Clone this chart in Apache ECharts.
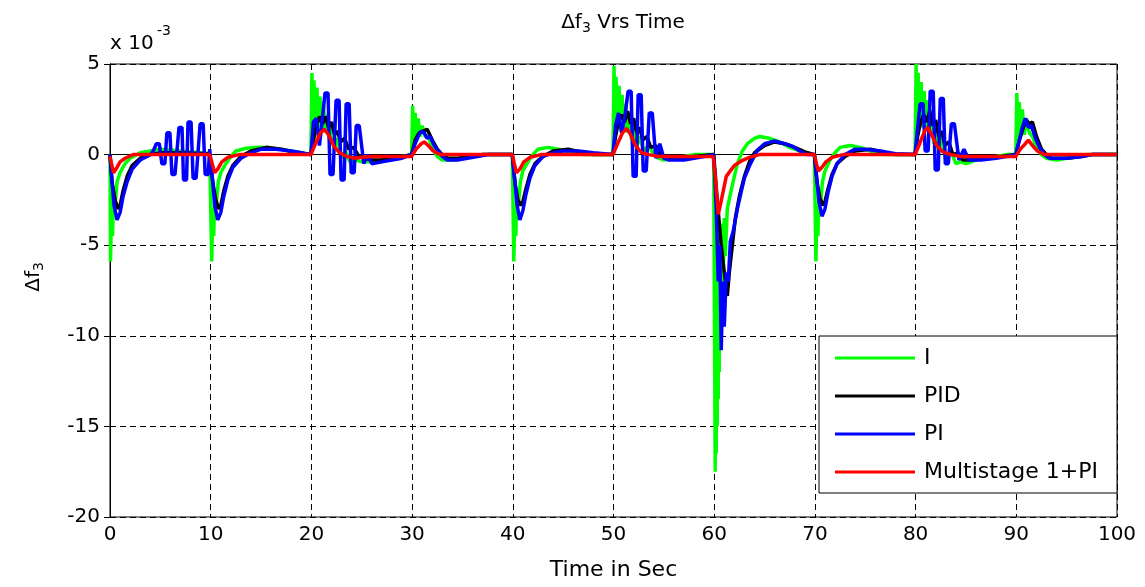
<!DOCTYPE html>
<html>
<head>
<meta charset="utf-8">
<script src="https://cdn.jsdelivr.net/npm/echarts@6/dist/echarts.min.js"></script>
<style>
html,body{margin:0;padding:0;background:#fff;}
#c{width:1145px;height:587px;}
</style>
</head>
<body>
<div id="c"></div>
<script>
// values in units of 1e-3
const seriesNames = ['I', 'PID', 'PI', 'Multistage 1+PI'];
const seriesColors = ['#00ff00', '#000000', '#0000ff', '#ff0000'];

const iData = [
[0,0],[0.05,-5.9],[0.15,-3.0],[0.25,-4.5],[0.35,-2.2],[0.5,-2.8],[0.7,-1.5],[1.0,-1.0],[1.5,-0.5],[2,-0.2],[3,0.1],[4,0.2],[5,0.3],[7,0.2],[9,0.1],[9.9,0.05],
[10.0,0],[10.1,-5.9],[10.2,-3.0],[10.3,-4.5],[10.4,-2.2],[10.55,-2.8],[10.75,-1.5],[11.0,-1.0],[11.5,-0.5],[12,-0.1],[12.5,0.2],[13.5,0.35],[15,0.4],[17,0.3],[19,0.1],[19.95,0],
[20.0,0],[20.05,4.5],[20.15,1.5],[20.25,4.1],[20.4,1.6],[20.55,3.7],[20.7,1.5],[20.85,3.2],[21.0,1.4],[21.2,2.8],[21.4,1.2],[21.6,2.2],[21.8,0.8],[22.0,1.6],[22.3,0.3],[22.6,0.9],[23.0,-0.2],[23.4,0.2],[23.8,-0.4],[24.5,-0.3],[25,-0.4],[26,-0.4],[27,-0.3],[28,-0.2],[29,-0.1],[29.95,0],
[30.0,0],[30.05,2.7],[30.15,0.8],[30.3,2.3],[30.45,0.9],[30.6,2.0],[30.8,1.0],[31.0,1.6],[31.3,1.0],[31.6,1.0],[32,0.4],[32.5,-0.1],[33,-0.3],[34,-0.3],[35,-0.2],[36,-0.1],[37,0],[39.95,0],
[40.0,0],[40.1,-5.9],[40.2,-3.0],[40.3,-4.5],[40.4,-2.2],[40.55,-2.8],[40.75,-1.5],[41.0,-0.9],[41.5,-0.4],[42,0],[42.5,0.3],[43.5,0.4],[44.5,0.3],[46,0.1],[47,0],[49.95,0],
[50.0,0],[50.05,4.9],[50.15,1.5],[50.25,4.3],[50.4,1.6],[50.55,3.8],[50.7,1.5],[50.85,3.3],[51.0,1.4],[51.2,2.8],[51.4,1.2],[51.6,2.3],[51.8,0.8],[52.0,1.8],[52.3,0.4],[52.6,1.0],[53.0,0.2],[53.5,0.5],[54,0],[54.5,-0.2],[55,-0.3],[56,-0.2],[57,-0.1],[58,0],[59.95,0],
[60.0,0],[60.05,-12],[60.1,-17.5],[60.15,-5],[60.2,-16.5],[60.25,-4.5],[60.3,-15],[60.35,-4.5],[60.4,-13.5],[60.45,-4.2],[60.5,-12],[60.55,-4],[60.6,-10.5],[60.65,-4],[60.7,-9],[60.75,-3.8],[60.8,-7.5],[60.85,-3.8],[60.9,-6.5],[61.0,-3.5],[61.1,-5.6],[61.3,-3],[61.6,-2.2],[62,-1.2],[62.3,-0.5],[62.8,0.2],[63.3,0.6],[64,0.9],[64.5,1.0],[65.5,0.9],[66.5,0.7],[67.5,0.4],[68.5,0.2],[69.5,0.05],[69.95,0],
[70.0,0],[70.1,-5.9],[70.2,-3.0],[70.3,-4.5],[70.4,-2.2],[70.55,-2.8],[70.75,-1.5],[71.0,-0.9],[71.5,-0.3],[72,0.1],[72.5,0.4],[73.5,0.5],[74.5,0.4],[75.5,0.2],[76.5,0.05],[77,0],[79.95,0],
[80.0,0],[80.05,5.0],[80.15,1.5],[80.25,4.5],[80.4,1.6],[80.55,4.0],[80.7,1.5],[80.85,3.5],[81.0,1.4],[81.2,3.0],[81.4,1.2],[81.6,2.5],[81.8,0.6],[82.0,1.8],[82.3,0.2],[82.6,0.9],[83.0,-0.3],[83.5,0.2],[84,-0.5],[84.5,-0.4],[85,-0.5],[86,-0.3],[87,-0.2],[88,-0.1],[89,0],[89.95,0],
[90.0,0],[90.05,3.4],[90.15,1.0],[90.3,2.9],[90.45,1.0],[90.6,2.5],[90.8,1.1],[91.0,2.0],[91.3,1.2],[91.6,1.0],[92,0.4],[92.5,0],[93,-0.2],[94,-0.3],[95,-0.2],[96,-0.1],[97,0],[100,0]
];

const pidData = [
[0,0],[0.2,-1.5],[0.5,-2.5],[0.8,-3.0],[1.0,-2.8],[1.3,-2.0],[1.7,-1.2],[2.2,-0.6],[3,-0.2],[4,0],[5,0.1],[7,0.1],[9.9,0.05],
[10.0,0],[10.2,-1.5],[10.5,-2.5],[10.8,-3.0],[11.0,-2.8],[11.3,-2.0],[11.7,-1.2],[12.2,-0.6],[13,-0.1],[14,0.2],[15.5,0.4],[17,0.3],[18.5,0.1],[19.95,0],
[20.0,0],[20.2,0.8],[20.5,1.6],[20.8,2.1],[21.1,1.7],[21.4,2.1],[21.7,1.5],[22.0,1.8],[22.3,1.1],[22.6,1.3],[22.9,0.7],[23.3,0.9],[23.7,0.3],[24.2,0.4],[24.7,-0.1],[25.3,-0.2],[26,-0.3],[27,-0.3],[28,-0.2],[29,-0.1],[29.95,0],
[30.0,0],[30.3,0.8],[30.7,1.2],[31.1,1.3],[31.5,1.4],[32,0.8],[32.5,0.3],[33,0],[33.5,-0.2],[34.5,-0.2],[36,-0.1],[37,0],[39.95,0],
[40.0,0],[40.2,-1.5],[40.5,-2.5],[40.8,-2.8],[41.0,-2.6],[41.3,-1.9],[41.7,-1.1],[42.2,-0.5],[43,-0.1],[44,0.2],[45.5,0.3],[47,0.1],[48,0],[49.95,0],
[50.0,0],[50.2,1.0],[50.5,1.8],[50.8,2.2],[51.1,1.8],[51.4,2.4],[51.7,1.7],[52.0,2.0],[52.3,1.2],[52.6,1.5],[52.9,0.8],[53.3,1.0],[53.7,0.4],[54.2,0.5],[54.7,0],[55.3,-0.2],[56.5,-0.2],[58,-0.1],[59.95,0],
[60.0,0],[60.3,-2.5],[60.7,-5],[61.0,-6.5],[61.3,-7.8],[61.5,-6.5],[61.8,-5.0],[62.1,-3.5],[62.5,-2.3],[63,-1.2],[63.5,-0.4],[64,0.1],[65,0.5],[66,0.7],[67,0.6],[68,0.4],[69,0.15],[69.95,0],
[70.0,0],[70.2,-1.5],[70.5,-2.4],[70.8,-2.8],[71.0,-2.6],[71.3,-1.9],[71.7,-1.1],[72.2,-0.5],[73,-0.1],[74,0.2],[75.5,0.3],[77,0.1],[78,0],[79.95,0],
[80.0,0],[80.2,1.0],[80.5,1.8],[80.8,2.2],[81.1,1.8],[81.4,2.4],[81.7,1.6],[82.0,1.9],[82.3,1.0],[82.6,1.3],[82.9,0.5],[83.3,0.7],[83.7,0],[84.2,0.1],[84.7,-0.3],[85.5,-0.3],[87,-0.2],[88.5,-0.1],[89.95,0],
[90.0,0],[90.3,0.8],[90.7,1.5],[91.0,1.9],[91.3,1.7],[91.6,1.8],[92,1.0],[92.5,0.3],[93,0],[93.5,-0.2],[95,-0.2],[96.5,-0.1],[97.5,0],[100,0]
];

const piData = [
[0,0],[0.2,-1.5],[0.4,-2.8],[0.7,-3.6],[1.0,-3.2],[1.3,-2.3],[1.7,-1.5],[2.2,-0.8],[3,-0.3],[4,0],[4.3,0.2],[4.6,0.6],[4.9,0.6],[5.15,-0.5],[5.45,-0.5],[5.65,1.2],[5.95,1.2],[6.15,-1.1],[6.45,-1.1],[6.85,1.5],[7.15,1.5],[7.3,-1.4],[7.6,-1.4],[7.75,1.8],[8.05,1.8],[8.25,-1.3],[8.55,-1.3],[8.95,1.7],[9.25,1.7],[9.45,-1.1],[9.75,-1.1],[9.9,0.3],
[10.0,0.2],[10.2,-1.5],[10.4,-2.8],[10.7,-3.6],[11.0,-3.2],[11.3,-2.3],[11.7,-1.4],[12.2,-0.7],[13,-0.2],[14,0.1],[15,0.3],[16.5,0.3],[18,0.2],[19,0.1],[19.95,0],
[20.0,0],[20.2,1.8],[20.5,2.0],[20.8,0.5],[21.0,1.5],[21.35,3.4],[21.65,3.4],[21.85,-1.1],[22.15,-1.1],[22.45,3.0],[22.75,3.0],[22.95,-1.4],[23.25,-1.4],[23.45,2.8],[23.75,2.8],[23.95,-1.0],[24.25,-1.0],[24.45,1.6],[24.75,1.6],[25.2,-0.5],[25.6,0],[26.0,-0.5],[27,-0.4],[28,-0.3],[29,-0.2],[29.95,0],
[30.0,0],[30.3,0.6],[30.6,1.0],[30.9,1.3],[31.2,1.2],[31.5,0.9],[31.8,1.0],[32.2,0.5],[32.6,0.2],[33,-0.1],[33.5,-0.3],[34.5,-0.3],[35.5,-0.2],[36.5,-0.1],[37.5,0],[39.95,0],
[40.0,0],[40.2,-1.4],[40.4,-2.7],[40.7,-3.6],[41.0,-3.1],[41.3,-2.2],[41.7,-1.3],[42.2,-0.6],[43,-0.1],[44,0.1],[45,0.2],[46.5,0.2],[48,0.1],[49.95,0],
[50.0,0],[50.2,1.6],[50.5,2.3],[50.8,1.2],[51.1,2.0],[51.45,3.5],[51.75,3.5],[51.95,-1.2],[52.25,-1.2],[52.45,3.3],[52.75,3.3],[52.95,-0.9],[53.25,-0.9],[53.55,2.3],[53.85,2.3],[54.2,-0.2],[54.6,0.6],[55.0,-0.2],[55.5,-0.3],[57,-0.3],[58,-0.2],[59,-0.1],[59.95,0],
[60.0,0],[60.2,-3],[60.4,-7],[60.55,-5],[60.7,-10.8],[60.85,-7],[61.0,-9.5],[61.2,-6.5],[61.4,-7],[61.6,-4.8],[61.9,-4.2],[62.3,-3.0],[62.7,-2.0],[63.0,-1.3],[63.6,-0.5],[64.3,0.25],[65,0.6],[66,0.75],[67,0.6],[67.8,0.45],[68.5,0.2],[69.2,0],[69.95,0],
[70.0,0],[70.2,-1.4],[70.4,-2.6],[70.7,-3.4],[71.0,-3.0],[71.3,-2.1],[71.7,-1.2],[72.2,-0.5],[73,0],[74,0.3],[75,0.3],[76.5,0.2],[78,0.05],[79.95,0],
[80.0,0],[80.2,1.5],[80.45,2.8],[80.75,2.8],[80.95,0.2],[81.25,0.2],[81.45,3.5],[81.75,3.5],[81.95,-0.85],[82.25,-0.85],[82.45,3.1],[82.75,3.1],[82.95,-0.5],[83.25,-0.5],[83.55,1.7],[83.85,1.7],[84.3,-0.3],[84.8,0.3],[85.3,-0.3],[86.5,-0.3],[88,-0.2],[89,-0.1],[89.95,0],
[90.0,0],[90.3,0.8],[90.6,1.5],[90.9,2.0],[91.2,1.5],[91.5,1.6],[91.9,0.9],[92.3,0.4],[92.8,0],[93.3,-0.2],[95,-0.2],[96.5,-0.1],[97.5,0],[100,0]
];

const msData = [
[0,-0.1],[0.15,-0.5],[0.35,-1.0],[0.6,-0.8],[1.0,-0.4],[1.5,-0.2],[2.3,0],[9.9,0],
[10.0,0],[10.15,-0.5],[10.4,-1.0],[10.7,-0.8],[11.1,-0.4],[11.7,-0.15],[12.8,0],[19.95,0],
[20.0,0],[20.4,0.6],[20.9,1.2],[21.3,1.4],[21.7,1.1],[22.2,0.5],[22.8,0.1],[23.5,-0.1],[24.3,-0.2],[25,-0.15],[26,-0.1],[29.95,-0.1],
[30.0,-0.1],[30.4,0.3],[30.9,0.6],[31.2,0.7],[31.6,0.5],[32.1,0.2],[32.8,0],[39.95,0],
[40.0,0],[40.15,-0.5],[40.35,-1.0],[40.7,-0.8],[41.1,-0.4],[41.7,-0.15],[42.8,0],[49.95,0],
[50.0,0],[50.4,0.6],[50.9,1.2],[51.3,1.45],[51.7,1.1],[52.2,0.5],[52.8,0.1],[53.5,0],[54.5,-0.1],[59.9,-0.1],
[60.0,-0.1],[60.15,-1.5],[60.4,-3.3],[60.6,-2.8],[60.9,-2.0],[61.2,-1.2],[61.6,-0.9],[62.0,-0.6],[62.7,-0.35],[63.5,-0.15],[64.5,0],[69.95,0],
[70.0,0],[70.15,-0.5],[70.35,-0.9],[70.7,-0.7],[71.1,-0.4],[71.7,-0.15],[72.8,0],[79.95,0],
[80.0,0],[80.4,0.6],[80.9,1.3],[81.2,1.5],[81.6,1.1],[82.1,0.5],[82.7,0.15],[83.5,0],[84.5,-0.1],[89.95,-0.1],
[90.0,-0.1],[90.4,0.3],[90.9,0.6],[91.2,0.8],[91.6,0.5],[92.1,0.2],[92.8,0],[100,0]
];

const xTicks = {min: 0, max: 100, interval: 10};
const yTicks = {min: -20, max: 5, interval: 5};

const FONT = '"DejaVu Sans", Verdana, sans-serif';
const allData = [iData, pidData, piData, msData];

const chart = echarts.init(document.getElementById('c'), null, {renderer: 'canvas'});
const GRID = {left: 110, right: 28, top: 64, bottom: 70};

const axisCommon = {
  axisLine: {show: true, lineStyle: {color: '#000', width: 1}},
  axisTick: {show: true, inside: true, length: 6, lineStyle: {color: '#000'}},
};

const option = {
  backgroundColor: '#fff',
  animation: false,
  grid: Object.assign({show: true, borderColor: '#000', borderWidth: 1, backgroundColor: '#fff'}, GRID),
  title: {
    text: '{a|Δf}{s|3}{a| Vrs Time}',
    left: 618, top: 6, textAlign: 'center',
    textStyle: {rich: {
      a: {fontFamily: FONT, fontSize: 20, fontWeight: 'normal', color: '#000', lineHeight: 24},
      s: {fontFamily: FONT, fontSize: 14, fontWeight: 'normal', color: '#000', lineHeight: 24, padding: [10, 0, 0, 0]}
    }}
  },
  legend: {
    orient: 'vertical',
    left: 830, top: 341,
    itemWidth: 80, itemHeight: 3, itemGap: 14,
    icon: 'rect',
    textStyle: {fontFamily: FONT, fontSize: 22, color: '#000', padding: [0, 0, 0, 4], lineHeight: 24},
    data: seriesNames,
    z: 10
  },
  xAxis: [
    Object.assign({type: 'value', min: xTicks.min, max: xTicks.max, interval: xTicks.interval,
      name: 'Time in Sec', nameLocation: 'middle', nameGap: 42,
      nameTextStyle: {fontFamily: FONT, fontSize: 22, color: '#000'},
      axisLabel: {fontFamily: FONT, fontSize: 20, color: '#000', margin: 8},
      splitLine: {show: true, lineStyle: {color: '#000', type: [6, 4], width: 1}}
    }, axisCommon),
    Object.assign({type: 'value', position: 'top', min: xTicks.min, max: xTicks.max, interval: xTicks.interval,
      axisLabel: {show: false}, splitLine: {show: false}}, axisCommon)
  ],
  yAxis: [
    Object.assign({type: 'value', min: yTicks.min, max: yTicks.max, interval: yTicks.interval,
      axisLabel: {fontFamily: FONT, fontSize: 20, color: '#000', margin: 10},
      splitLine: {show: true, lineStyle: {color: '#000', type: [6, 4], width: 1}}
    }, axisCommon),
    Object.assign({type: 'value', position: 'right', min: yTicks.min, max: yTicks.max, interval: yTicks.interval,
      axisLabel: {show: false}, splitLine: {show: false}}, axisCommon)
  ],
  graphic: [
    {type: 'rect', z: 5, shape: {x: 819, y: 336, width: 298, height: 157},
     style: {fill: '#fff', stroke: '#000', lineWidth: 1}},
    {type: 'text', z: 5, left: 110, top: 34,
     style: {text: 'x 10', font: '20px ' + FONT, fill: '#000'}},
    {type: 'text', z: 5, left: 157, top: 24,
     style: {text: '-3', font: '14px ' + FONT, fill: '#000'}},
    {type: 'text', z: 5, left: 22, top: 262, rotation: Math.PI / 2,
     style: {text: '{a|Δf}{s|3}', fill: '#000',
       rich: {a: {fontFamily: FONT, fontSize: 20, lineHeight: 24},
              s: {fontFamily: FONT, fontSize: 14, lineHeight: 24, padding: [10, 0, 0, 0]}}}}
  ],
  series: seriesNames.map((n, k) => ({
    name: n, type: 'line', data: allData[k], showSymbol: false, symbol: 'none',
    lineStyle: {color: seriesColors[k], width: 3.5}, itemStyle: {color: seriesColors[k]},
    z: 2 + k * 0.1, clip: true
  }))
};
chart.setOption(option);
</script>
</body>
</html>
